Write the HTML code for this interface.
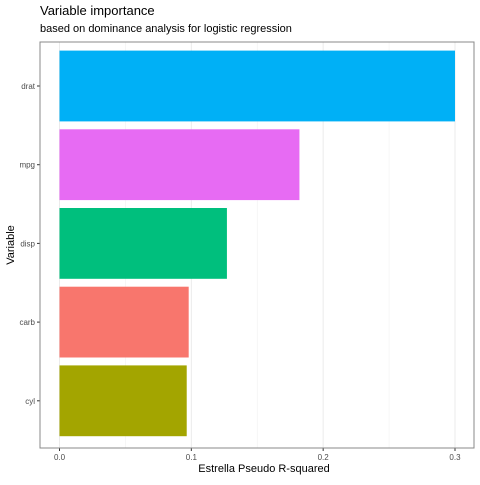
<!DOCTYPE html>
<html><head><meta charset="utf-8"><style>body{margin:0;background:#fff}svg text{font-family:"Liberation Sans",sans-serif}</style></head>
<body>
<svg id="chart" width="480" height="480">
<rect width="480" height="480" fill="#fff"/>
<text x="40" y="15" font-size="13" fill="#000">Variable importance</text>
<text x="40" y="32" font-size="11" fill="#000">based on dominance analysis for logistic regression</text>
<g id="grid"></g><g id="bars"></g><g id="axes"></g>
<rect x="40" y="42" width="434" height="406" fill="none" stroke="#888" stroke-width="1"/>
<text x="264" y="472" font-size="11" text-anchor="middle" fill="#000">Estrella Pseudo R-squared</text>
<text transform="translate(14,245) rotate(-90)" font-size="11" text-anchor="middle" fill="#000">Variable</text>
</svg>
<script>
const categories=["drat","mpg","disp","carb","cyl"];
const values=[0.300,0.182,0.127,0.098,0.0965];
const colors=["#00b0f6","#e76bf3","#00bf7d","#f8766d","#a3a500"];
const ticks=[0,0.1,0.2,0.3];
const tickLabels=["0.0","0.1","0.2","0.3"];
const NS="http://www.w3.org/2000/svg";
const x=v=>59.5+v*1318.3;
const step=78.7, top0=42+8.6;
const yc=i=>top0+step*i+35.4;
function mk(t,a,p){const e=document.createElementNS(NS,t);for(const k in a)e.setAttribute(k,a[k]);p.appendChild(e);return e;}
const grid=document.getElementById('grid'),bars=document.getElementById('bars'),axes=document.getElementById('axes');
[0.05,0.15,0.25].forEach(v=>{const l=mk('line',{x1:x(v),x2:x(v),y1:42,y2:448,stroke:'#f0f0f0','stroke-width':0.6},grid);

});
ticks.forEach((v,i)=>{const l=mk('line',{x1:x(v),x2:x(v),y1:42,y2:448,stroke:'#ebebeb','stroke-width':1},grid);


const tk=mk('line',{x1:x(v),x2:x(v),y1:448,y2:451,stroke:'#333'},axes);


const t=mk('text',{x:x(v),y:460,'font-size':8,'text-anchor':'middle',fill:'#4d4d4d'},axes);t.textContent=tickLabels[i];

});
categories.forEach((c,i)=>{const r=mk('rect',{x:x(0),y:yc(i)-35.4,width:x(values[i])-x(0),height:70.8,fill:colors[i]},bars);


const tk=mk('line',{x1:37,x2:40,y1:yc(i),y2:yc(i),stroke:'#333'},axes);


const t=mk('text',{x:35,y:yc(i)+3,'font-size':8,'text-anchor':'end',fill:'#4d4d4d'},axes);t.textContent=c;

});
</script>
</body></html>
